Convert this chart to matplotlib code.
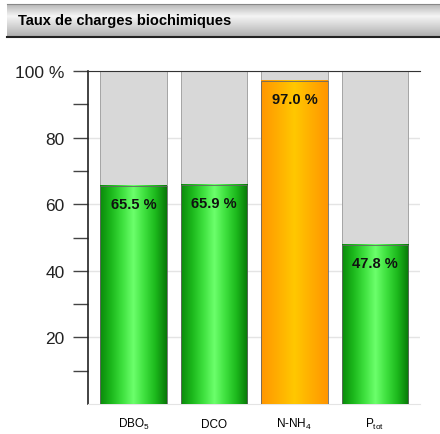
import matplotlib.pyplot as plt
import numpy as np
from matplotlib.colors import LinearSegmentedColormap
from matplotlib.patches import Rectangle

plt.rcParams["font.family"] = ["Liberation Sans", "DejaVu Sans"]
plt.rcParams["mathtext.fontset"] = "custom"
plt.rcParams["mathtext.rm"] = "Liberation Sans"
plt.rcParams["mathtext.it"] = "Liberation Sans"

categories = [r"DBO$_5$", "DCO", r"N-NH$_4$", r"P$_{tot}$"]
rates = [65.5, 65.9, 97.0, 47.8]
kinds = ["green", "green", "orange", "green"]

title = "Taux de charges biochimiques"

cmaps = {
    "green": LinearSegmentedColormap.from_list(
        "g", ["#0b8a0b", "#1cb81c", "#3ee03e", "#6cff6c",
              "#3ee03e", "#1cb81c", "#087808"]),
    "orange": LinearSegmentedColormap.from_list(
        "o", ["#ff9600", "#ffae00", "#ffc800", "#ffae00", "#ff9600"]),
}

fig = plt.figure(figsize=(4.4, 4.35), dpi=100)

# header band with vertical grey gradient
hdr = fig.add_axes([7 / 440, 1 - 38 / 435, 433 / 440, 33 / 435])
grad = np.concatenate([np.linspace(0.72, 0.95, 12), np.linspace(0.95, 0.68, 20)])
hdr.imshow(grad[:, None], cmap="gray", vmin=0, vmax=1, aspect="auto",
           extent=(0, 1, 0, 1))
hdr.set_xlim(0, 1)
hdr.set_ylim(0, 1)
hdr.set_xticks([])
hdr.set_yticks([])
for s in ["left", "right"]:
    hdr.spines[s].set_visible(False)
hdr.spines["top"].set_color("#888888")
hdr.spines["bottom"].set_color("#222222")
hdr.spines["bottom"].set_linewidth(1.5)
hdr.text(0.025, 0.5, title, fontsize=10.5, fontweight="bold", va="center")

ax = fig.add_axes([88 / 440, 1 - 405 / 435, 332 / 440, 333 / 435])
x = np.arange(len(categories))
width = 0.83
grad_h = np.linspace(0, 1, 200)[None, :]

for xi, v, k in zip(x, rates, kinds):
    x0, x1 = xi - width / 2, xi + width / 2
    ax.add_patch(Rectangle((x0, v), width, 100 - v, facecolor="#d8d8d8",
                           edgecolor="#999999", linewidth=0.6, zorder=2))
    ax.imshow(grad_h, cmap=cmaps[k], aspect="auto", extent=(x0, x1, 0, v),
              zorder=3)
    ax.add_patch(Rectangle((x0, 0), width, v, facecolor="none",
                           edgecolor="#666666", linewidth=0.6, zorder=4))
    ax.text(xi, v - 5.5, f"{v:.1f} %", ha="center", va="center",
            fontsize=10.5, fontweight="bold", color="#111111", zorder=5)

ax.set_xlim(-0.565, 3.56)
ax.set_ylim(0, 100)
ax.set_xticks(x)
ax.set_xticklabels(categories, fontsize=8.5)
ax.tick_params(axis="x", length=0, pad=16.5)
# keep all category names on one baseline, subscripts or not
for lbl in ax.get_xticklabels():
    lbl.set_verticalalignment("baseline")
ax.set_yticks([20, 40, 60, 80, 100])
ax.set_yticklabels(["20", "40", "60", "80", "100 %"], fontsize=12.5,
                   color="#222222")
ax.set_yticks([10, 30, 50, 70, 90], minor=True)
ax.tick_params(axis="y", which="both", length=11, width=1, color="#444444",
               pad=6)
ax.yaxis.grid(True, color="#e4e4e4", linewidth=1, zorder=0)
ax.set_axisbelow(True)
ax.spines["right"].set_visible(False)
ax.spines["top"].set_color("#333333")
ax.spines["bottom"].set_color("#e4e4e4")
ax.spines["left"].set_color("#222222")
ax.spines["left"].set_linewidth(1.2)

plt.savefig("out.png", dpi=100)
plt.close()
